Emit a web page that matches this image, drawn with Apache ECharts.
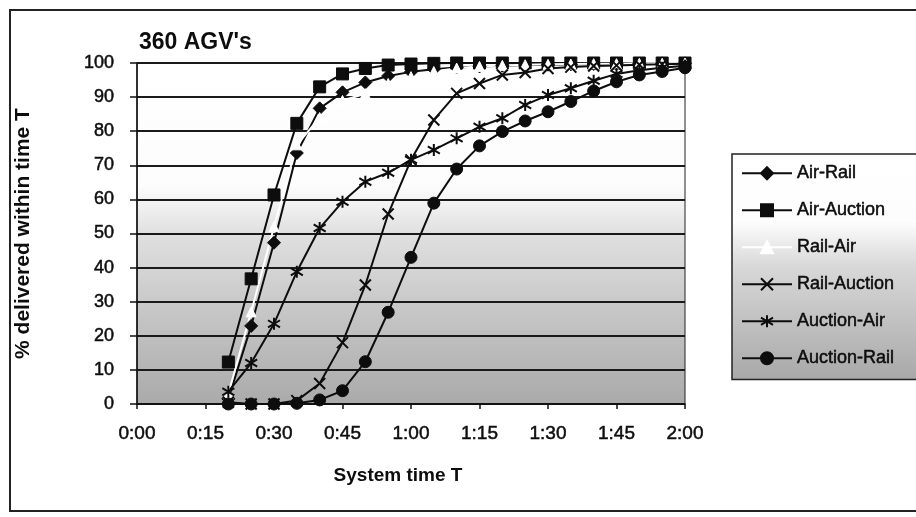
<!DOCTYPE html>
<html>
<head>
<meta charset="utf-8">
<script src="https://cdn.jsdelivr.net/npm/echarts@6/dist/echarts.min.js"></script>
<style>
  html, body { margin: 0; padding: 0; background: #fff; }
  #chart { width: 916px; height: 517px; }
</style>
</head>
<body>
<div id="chart"></div>
<script>
// Minutes of system time at which deliveries were sampled
const minutes = [20, 25, 30, 35, 40, 45, 50, 55, 60, 65, 70, 75, 80, 85, 90, 95, 100, 105, 110, 115, 120];

// % delivered within time T, one array per routing combination
const airRail     = [1.5, 22.9, 47.3, 73.6, 86.7, 91.4, 94.3, 96.2, 97.4, 98.2, 98.7, 99.0, 99.2, 99.4, 99.5, 99.6, 99.7, 99.8, 99.8, 99.9, 99.9];
const airAuction  = [12.3, 36.7, 61.3, 82.3, 93.0, 96.8, 98.4, 99.4, 99.7, 99.9, 100, 100, 100, 100, 100, 100, 100, 100, 100, 100, 100];
const railAir     = [3, 27, 52, 76, 84, 89, 91, 94, 96, 97.5, 98.5, 99.0, 99.3, 99.5, 99.6, 99.7, 99.8, 99.8, 99.9, 99.9, 100];
const railAuction = [0.5, 0, 0, 1, 6, 18, 34.9, 55.7, 71.6, 83.3, 91.1, 94.0, 96.5, 97.2, 98.4, 98.8, 99.1, 99.3, 99.5, 99.6, 99.8];
const auctionAir  = [3.6, 12, 23.5, 38.8, 51.6, 59.3, 65.2, 67.8, 71.6, 74.5, 77.9, 81.3, 83.8, 87.7, 90.6, 92.6, 94.8, 96.8, 97.9, 98.6, 99.2];
const auctionRail = [0, 0, 0, 0.2, 1.2, 3.9, 12.4, 26.9, 43.0, 58.9, 68.9, 75.7, 79.9, 83.0, 85.7, 88.7, 91.8, 94.5, 96.5, 97.5, 98.6];

const seriesNames = ['Air-Rail', 'Air-Auction', 'Rail-Air', 'Rail-Auction', 'Auction-Air', 'Auction-Rail'];
const xTickLabels = ['0:00', '0:15', '0:30', '0:45', '1:00', '1:15', '1:30', '1:45', '2:00'];

const FONT = "'Liberation Sans', Arial, sans-serif";
const INK = '#0d0d0d';
// slightly heavier strokes for the regular-weight texts
const heavy = { textBorderColor: INK, textBorderWidth: 0.5 };

const pair = (vals) => minutes.map((m, i) => [m, vals[i]]);

// stroked marker shapes
const xMark = 'path://M0,0L10,10M10,0L0,10';
const starMark = 'path://M5,0L5,10M0,2L10,8M10,2L0,8';

function lineSeries(name, vals, symbol, size, opts) {
  const color = (opts && opts.color) || INK;
  const stroked = opts && opts.stroked;
  return {
    name: name,
    type: 'line',
    data: pair(vals),
    symbol: symbol,
    symbolSize: size,
    showAllSymbol: true,
    animation: false,
    lineStyle: { color: color, width: 2 },
    itemStyle: stroked
      ? { color: 'none', borderColor: color, borderWidth: 2 }
      : { color: color, borderColor: color, borderWidth: 1 },
    emphasis: { disabled: true }
  };
}

const shade = (stops) => ({
  type: 'linear', x: 0, y: 0, x2: 0, y2: 1,
  colorStops: stops.map(s => ({ offset: s[0], color: s[1] }))
});

const chart = echarts.init(document.getElementById('chart'), null, { renderer: 'canvas' });

chart.setOption({
  backgroundColor: '#fff',
  animation: false,
  textStyle: { fontFamily: FONT },
  grid: {
    left: 137, right: 231, top: 63, bottom: 113,
    show: true,
    borderColor: '#222',
    borderWidth: 1,
    backgroundColor: shade([[0, '#ffffff'], [0.36, '#fcfcfc'], [0.5, '#e0e0e0'], [0.75, '#c4c4c4'], [1, '#aaaaaa']])
  },
  graphic: [
    {
      type: 'rect',
      shape: { x: 10, y: 10, width: 940, height: 501 },
      style: { fill: 'none', stroke: '#222', lineWidth: 2 },
      silent: true, z: -1
    },
    {
      type: 'text',
      left: 139, top: 31,
      style: { text: "360 AGV's", font: "bold 23px " + FONT, fill: INK }
    }
  ],
  legend: {
    orient: 'vertical',
    left: 732, top: 154,
    padding: [10, 40, 12, 9],
    itemWidth: 50, itemHeight: 15, itemGap: 18.5,
    backgroundColor: shade([[0, '#ffffff'], [0.3, '#fdfdfd'], [0.5, '#d8d8d8'], [1, '#a8a8a8']]),
    borderColor: '#222', borderWidth: 1.5,
    textStyle: Object.assign({ fontSize: 18, color: INK, fontFamily: FONT, lineHeight: 18 }, heavy),
    data: seriesNames
  },
  xAxis: {
    type: 'value',
    min: 0, max: 120, interval: 15,
    name: 'System time T',
    nameLocation: 'middle',
    nameGap: 62,
    nameTextStyle: { fontSize: 19, fontWeight: 'bold', color: INK, padding: [0, 26, 0, 0] },
    axisLine: { show: true, onZero: false, lineStyle: { color: '#111', width: 1.5 } },
    axisTick: { show: true, length: 5, lineStyle: { color: '#111', width: 1.5 } },
    axisLabel: Object.assign({
      fontSize: 19, color: INK, margin: 20,
      formatter: (v) => xTickLabels[Math.round(v / 15)]
    }, heavy),
    splitLine: { show: false }
  },
  yAxis: {
    type: 'value',
    min: 0, max: 100, interval: 10,
    name: '% delivered within time T',
    nameLocation: 'middle',
    nameGap: 103,
    nameTextStyle: { fontSize: 21, fontWeight: 'bold', color: INK },
    axisLine: { show: true, lineStyle: { color: '#111', width: 1.5 } },
    axisTick: { show: true, length: 7, lineStyle: { color: '#111', width: 1.5 } },
    axisLabel: Object.assign({ fontSize: 18, color: INK, margin: 23 }, heavy),
    splitLine: { show: true, lineStyle: { color: '#1a1a1a', width: 2 } }
  },
  series: [
    lineSeries(seriesNames[0], airRail, 'diamond', 13),
    lineSeries(seriesNames[1], airAuction, 'rect', 12),
    lineSeries(seriesNames[2], railAir, 'triangle', 10, { color: '#ffffff' }),
    lineSeries(seriesNames[3], railAuction, xMark, 11, { stroked: true }),
    lineSeries(seriesNames[4], auctionAir, starMark, 12, { stroked: true }),
    lineSeries(seriesNames[5], auctionRail, 'circle', 12)
  ]
});
</script>
</body>
</html>
